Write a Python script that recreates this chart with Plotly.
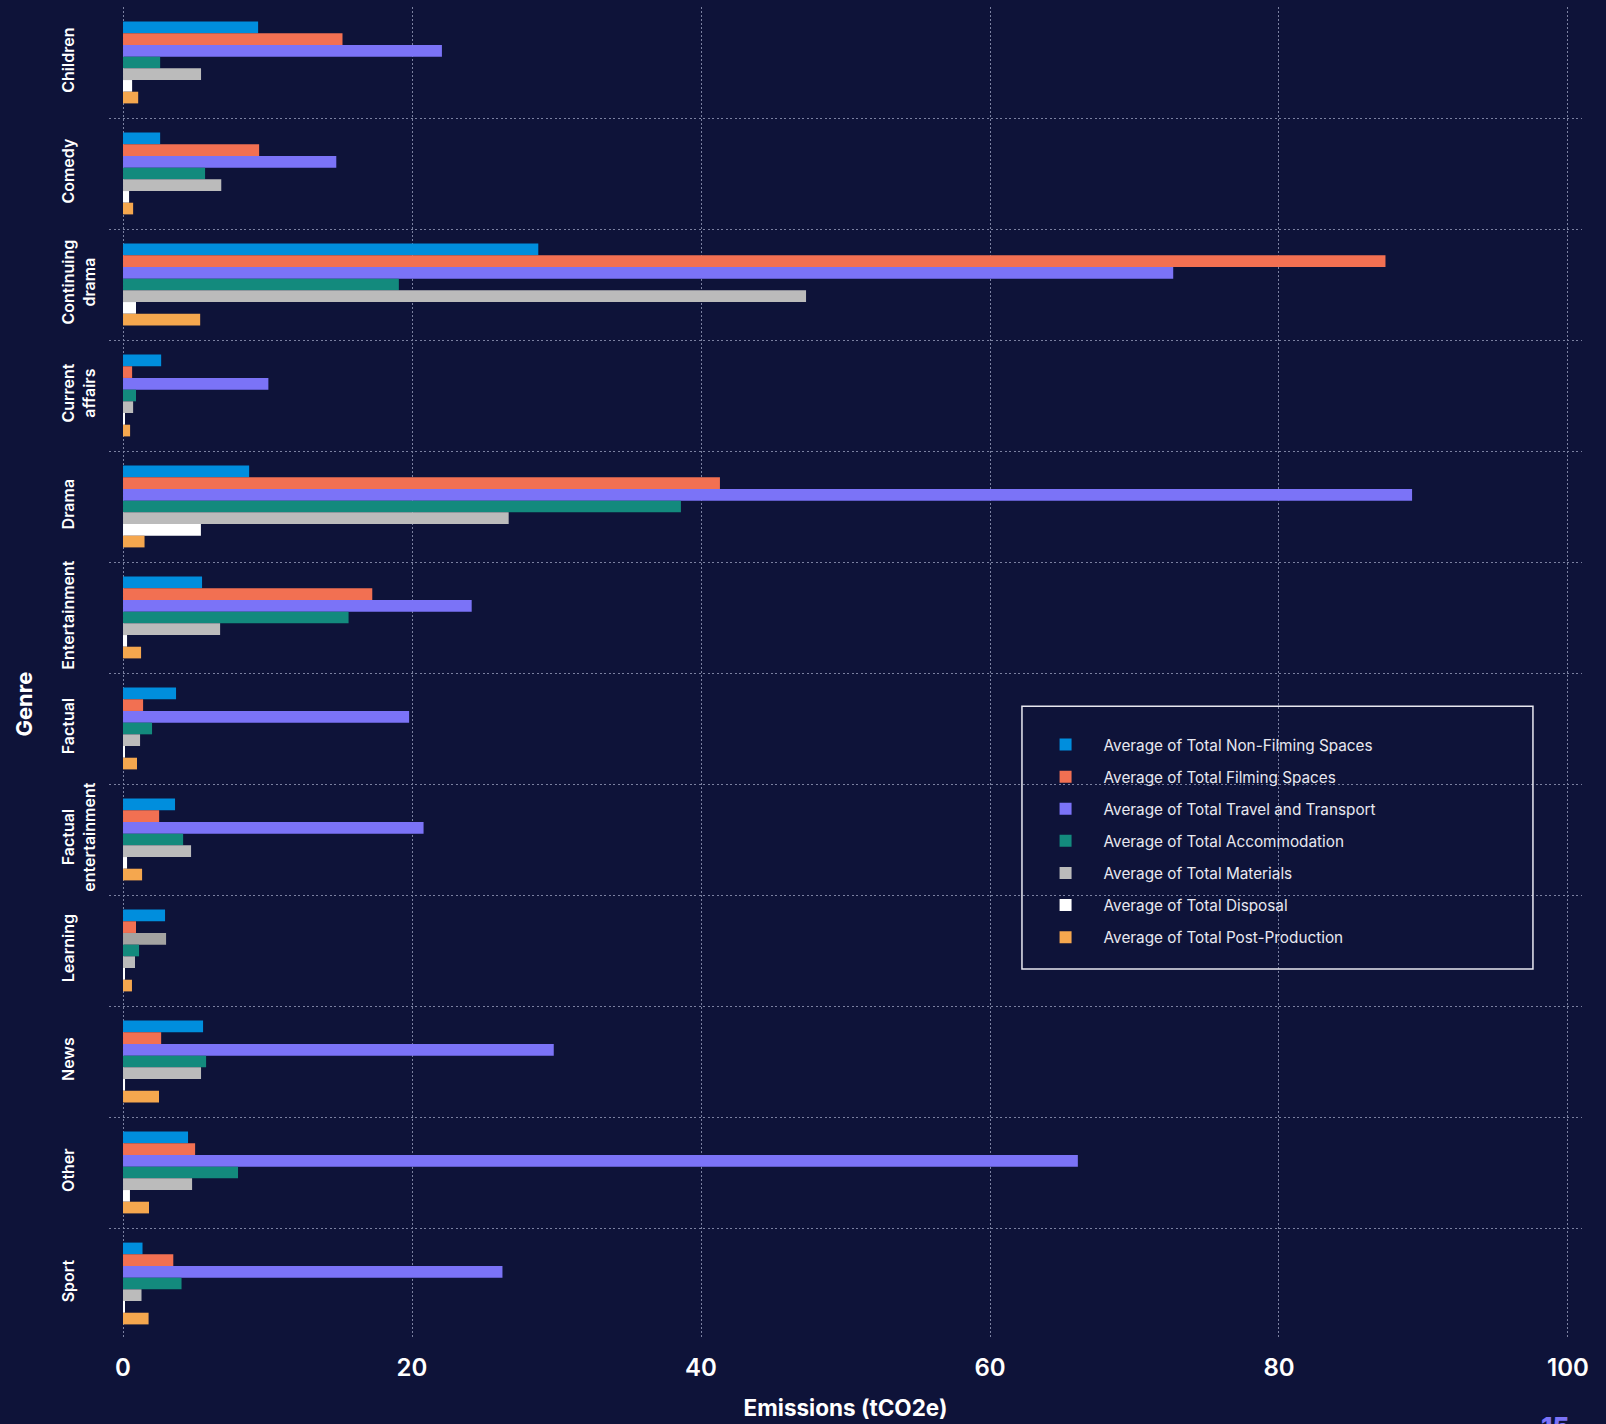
import plotly.graph_objects as go

genres = ["Children", "Comedy", "Continuing drama", "Current affairs", "Drama",
          "Entertainment", "Factual", "Factual entertainment", "Learning",
          "News", "Other", "Sport"]
genre_labels = ["Children<br>\u00a0", "Comedy<br>\u00a0", "Continuing<br>drama", "Current<br>affairs",
                "Drama<br>\u00a0", "Entertainment<br>\u00a0", "Factual<br>\u00a0",
                "Factual<br>entertainment", "Learning<br>\u00a0", "News<br>\u00a0",
                "Other<br>\u00a0", "Sport<br>\u00a0"]

non_filming = [9.35, 2.57, 28.74, 2.64, 8.73, 5.47, 3.67, 3.60, 2.91, 5.54, 4.50, 1.35]
filming = [15.19, 9.42, 87.37, 0.63, 41.31, 17.25, 1.39, 2.50, 0.90, 2.64, 4.99, 3.48]
travel = [22.07, 14.76, 72.68, 10.06, 89.21, 24.13, 19.80, 20.80, 2.98, 29.81, 66.08, 26.26]
accommodation = [2.57, 5.68, 19.09, 0.90, 38.61, 15.61, 2.01, 4.16, 1.11, 5.75, 7.96, 4.05]
materials = [5.40, 6.80, 47.27, 0.70, 26.69, 6.72, 1.18, 4.71, 0.83, 5.40, 4.78, 1.28]
disposal = [0.63, 0.42, 0.90, 0.10, 5.39, 0.28, 0.07, 0.28, 0.07, 0.14, 0.48, 0.10]
post_production = [1.05, 0.70, 5.34, 0.49, 1.49, 1.25, 0.97, 1.32, 0.62, 2.49, 1.80, 1.77]

series_names = ["Average of Total Non-Filming Spaces", "Average of Total Filming Spaces",
                "Average of Total Travel and Transport", "Average of Total Accommodation",
                "Average of Total Materials", "Average of Total Disposal",
                "Average of Total Post-Production"]
series_values = [non_filming, filming, travel, accommodation, materials, disposal, post_production]
series_colors = ["#008EDD", "#F27052", "#7B73F7", "#138A7D", "#BBBBBB", "#FFFFFF", "#F5A74E"]

x_ticks = [0, 20, 40, 60, 80, 100]

BG = "#0E1339"
GRID = "#7A80A0"
FONT = "Inter"

fig = go.Figure()
for name, vals, col in zip(series_names, series_values, series_colors):
    colors = [col] * len(genres)
    if name == "Average of Total Travel and Transport":
        colors[genres.index("Learning")] = "#A3A3A1"
    fig.add_trace(go.Bar(
        y=genres, x=vals, name=name, orientation="h",
        marker=dict(color=colors, line=dict(width=0)),
        legendgroup=name,
    ))

fig.update_layout(
    width=1606, height=1424,
    paper_bgcolor=BG, plot_bgcolor=BG,
    margin=dict(l=109, r=24, t=7, b=78),
    barmode="group", bargap=0.263, bargroupgap=0,
    font=dict(family=FONT, color="#FFFFFF"),
    showlegend=True,
    legend=dict(
        x=0.6236, y=0.4586, xanchor="left", yanchor="top",
        bgcolor="rgba(0,0,0,0)", borderwidth=0,
        font=dict(family=FONT, size=15.3, color="#E8E8F0"),
        itemwidth=66, tracegroupgap=9.2,
        traceorder="grouped",
    ),
    xaxis=dict(
        range=[-0.97, 100.97], tickvals=x_ticks, ticktext=[str(v) for v in x_ticks],
        showgrid=True, gridcolor=GRID, griddash="1.5px,2.5px", gridwidth=1,
        zeroline=False, showline=False, ticks="",
        ticklabelstandoff=12,
        tickfont=dict(family=FONT, size=24, color="#FFFFFF", weight=600),
        title=dict(text="Emissions (tCO2e)", standoff=19,
                   font=dict(family=FONT, size=22.5, color="#FFFFFF", weight=700)),
    ),
    yaxis=dict(
        categoryorder="array", categoryarray=genres,
        tickvals=genres, ticktext=genre_labels,
        autorange="reversed",
        tickson="boundaries",
        showgrid=True, gridcolor=GRID, griddash="2px,2.5px", gridwidth=1,
        zeroline=False, showline=False, ticks="",
        tickangle=-90,
        ticklabelstandoff=10,
        tickfont=dict(family=FONT, size=16, color="#FFFFFF", weight=600),
    ),
    shapes=[dict(type="rect", xref="paper", yref="paper",
                 x0=0.6198, x1=0.9667, y0=0.2778, y1=0.4750,
                 line=dict(color="#E8E8F0", width=1.5), fillcolor="rgba(0,0,0,0)")],
    annotations=[
        dict(text="Genre", xref="paper", yref="paper", x=-0.0578, y=0.477,
             xanchor="center", yanchor="middle", textangle=-90, showarrow=False,
             font=dict(family=FONT, size=22, color="#FFFFFF", weight=700)),
        dict(text="15", xref="paper", yref="paper", x=0.982, y=-0.0523,
             xanchor="center", yanchor="top", showarrow=False,
             font=dict(family=FONT, size=26, color="#7B73F7", weight=800)),
    ],
)

fig.write_html(
    "out.html",
    config={"displayModeBar": False},
    post_script="document.body.style.margin='0';document.body.style.background='#0E1339';",
)
